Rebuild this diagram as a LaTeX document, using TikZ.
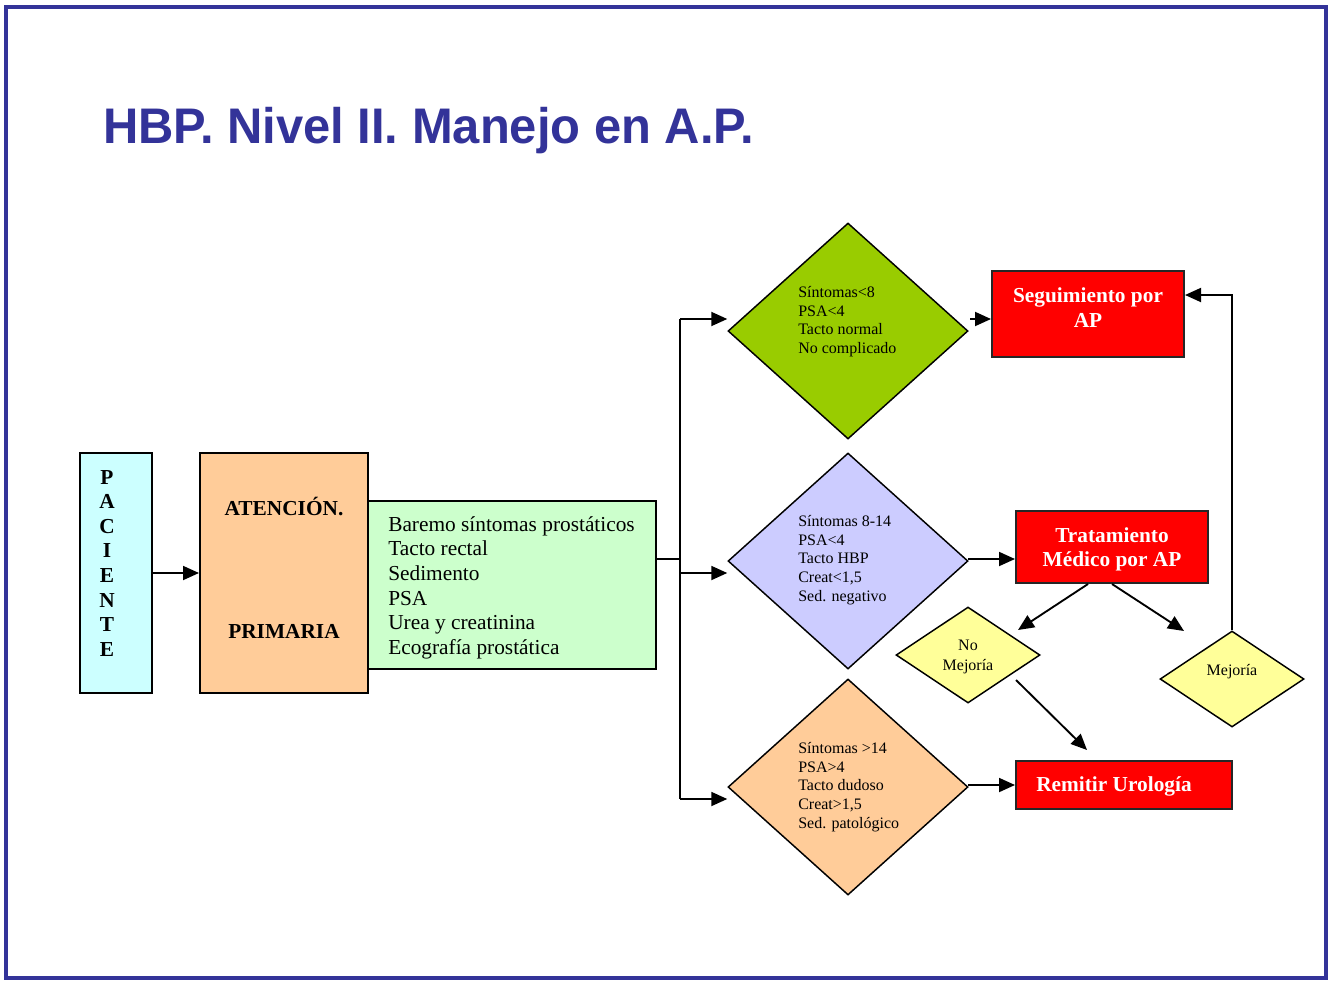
\documentclass[tikz,border=0pt]{standalone}
\usepackage{fontspec}
\setmainfont{Liberation Serif}
\newfontfamily\titlefont{Liberation Sans}
\usetikzlibrary{shapes.geometric,arrows.meta,calc}
\definecolor{frameblue}{HTML}{333399}
\definecolor{pacfill}{HTML}{CCFFFF}
\definecolor{peach}{HTML}{FFCC99}
\definecolor{mint}{HTML}{CCFFCC}
\definecolor{dgreen}{HTML}{99CC00}
\definecolor{lav}{HTML}{CCCCFF}
\definecolor{yel}{HTML}{FFFF99}
\definecolor{redfill}{HTML}{FF0000}
\begin{document}
\begin{tikzpicture}[x=0.75pt,y=-0.75pt,
  box/.style={draw=black,line width=1.5pt,inner sep=0pt},
  redbox/.style={draw=black!85,fill=redfill,line width=1.5pt,inner sep=0pt},
  redtxt/.style={text=white,font=\bfseries\fontsize{16}{18.5}\selectfont,align=center,inner sep=0pt},
  dia/.style={diamond,draw=black,line width=1.1pt,inner sep=0pt},
  dtxt/.style={anchor=north west,align=left,inner sep=0pt,font=\fontsize{12}{14}\selectfont},
  boldtxt/.style={font=\bfseries\fontsize{16}{18.43}\selectfont,inner sep=0pt},
  line/.style={line width=1.4pt},
  arr/.style={line width=1.4pt,-{Triangle[length=12pt,width=10.5pt]}}]

\useasboundingbox (0,0) rectangle (1330,981);
\fill[white] (0,0) rectangle (1330,981);
\draw[frameblue,line width=3pt] (6,7) rectangle (1326,978);

% title
\node[anchor=base west,inner sep=0pt,text=frameblue,xscale=0.978,
      font=\titlefont\bfseries\fontsize{37.5}{40}\selectfont] (title) at (103,143)
      {HBP. Nivel II. Manejo en A.P.};

% left column
\node[box,fill=pacfill,minimum width=54pt,minimum height=180pt] (pac) at (116,573) {};
\node[boldtxt,align=center,anchor=north] (pactxt) at (107,470) {P\\A\\C\\I\\E\\N\\T\\E};

\node[box,fill=peach,minimum width=126pt,minimum height=180pt] (aten) at (284,573) {};
\node[boldtxt,anchor=base] (atena) at (284,515) {ATENCIÓN.};
\node[boldtxt,anchor=base] (atenb) at (284,638) {PRIMARIA};

\node[box,fill=mint,minimum width=216pt,minimum height=126pt] (tests) at (512,585) {};
\node[anchor=north west,align=left,inner sep=0pt,font=\fontsize{16}{18.5}\selectfont] (teststxt) at (388,516)
  {Baremo síntomas prostáticos\\Tacto rectal\\Sedimento\\PSA\\Urea y creatinina\\Ecografía prostática};

% decision diamonds
\node[dia,fill=dgreen,minimum width=180pt,minimum height=162pt] (d1) at (848,331) {};
\node[dtxt] (d1txt) at (798,286) {Síntomas<8\\PSA<4\\Tacto normal\\No complicado};

\node[dia,fill=lav,minimum width=180pt,minimum height=162pt] (d2) at (848,561) {};
\node[dtxt] (d2txt) at (798,515) {Síntomas 8-14\\PSA<4\\Tacto HBP\\Creat<1,5\\Sed. negativo};

\node[dia,fill=peach,minimum width=180pt,minimum height=162pt] (d3) at (848,787) {};
\node[dtxt] (d3txt) at (798,742) {Síntomas >14\\PSA>4\\Tacto dudoso\\Creat>1,5\\Sed. patológico};

% outcomes
\node[redbox,minimum width=144pt,minimum height=64.5pt] (seg) at (1088,314) {};
\node[redtxt] (segtxt) at (1088,307.5) {Seguimiento por\\AP};

\node[redbox,minimum width=144pt,minimum height=54pt] (trat) at (1112,547) {};
\node[redtxt] (trattxt) at (1112,549.5) {Tratamiento\\Médico por AP};

\node[redbox,minimum width=162pt,minimum height=36pt] (rem) at (1124,785) {};
\node[redtxt] (remtxt) at (1114,786) {Remitir Urología};

\node[dia,fill=yel,minimum width=108pt,minimum height=72pt] (nomej) at (968,655) {};
\node[align=center,inner sep=0pt,font=\fontsize{12}{15}\selectfont] (nomejtxt) at (968,657) {No\\Mejoría};

\node[dia,fill=yel,minimum width=108pt,minimum height=72pt] (mej) at (1232,679) {};
\node[inner sep=0pt,font=\fontsize{12}{15}\selectfont] (mejtxt) at (1232,672) {Mejoría};

% connectors
\draw[arr] (pac.east) -- (aten.west);

\coordinate (split) at (680,559);
\coordinate (trunktop) at (680,319);
\coordinate (trunkmid) at (680,573);
\coordinate (trunkbot) at (680,799);
\draw[line] (tests.east |- split) -- (split);
\draw[line] (trunktop) -- (trunkbot);
\draw[arr] (trunktop) -- (trunktop -| d1.west);
\draw[arr] (trunkmid) -- (trunkmid -| d2.west);
\draw[arr] (trunkbot) -- (trunkbot -| d3.west);

\coordinate (s1) at (970,319);
\draw[arr] (s1) -- (s1 -| seg.west);
\coordinate (s2) at (968,559);
\draw[arr] (s2) -- (s2 -| trat.west);
\coordinate (s3) at (968,785);
\draw[arr] (s3) -- (s3 -| rem.west);

\coordinate (tl) at (1018,630);
\coordinate (tr) at (1184,631);
\draw[arr] ($(trat.south)+(-24,0)$) -- (tl);
\draw[arr] (trat.south) -- (tr);

\coordinate (nm0) at (1016,680);
\coordinate (nm1) at (1087,750);
\draw[arr] (nm0) -- (nm1);

\draw[arr] (mej.north) |- ($(seg.east)+(0,-19)$);

\end{tikzpicture}
\end{document}
